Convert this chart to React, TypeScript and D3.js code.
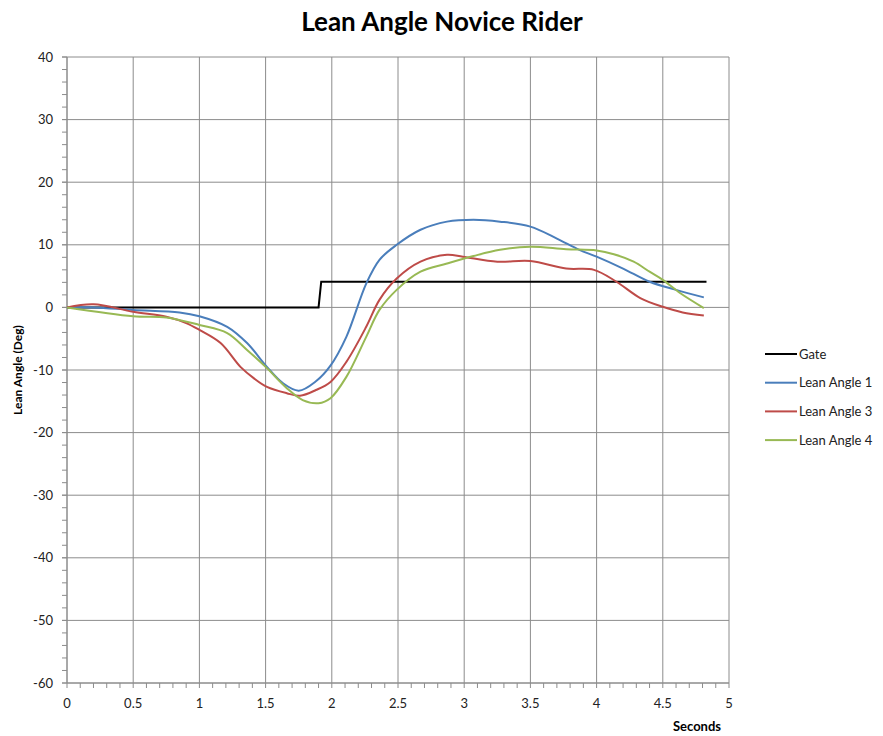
import React from "react";
import * as d3 from "d3";

const gateX = [0, 1.9, 1.92, 4.83];
const gateY = [0, 0, 4.1, 4.1];

const la1X = [0, 0.2, 0.5, 0.85, 1.0, 1.21, 1.36, 1.51, 1.63, 1.75, 1.88, 1.99, 2.11, 2.26, 2.36, 2.49, 2.67, 2.87, 3.07, 3.27, 3.5, 3.7, 3.87, 4.0, 4.2, 4.4, 4.6, 4.81];
const la1Y = [0, 0, -0.4, -0.8, -1.4, -3.1, -5.7, -9.5, -12.1, -13.3, -11.8, -9.3, -4.7, 3.8, 7.6, 10.0, 12.4, 13.7, 14.0, 13.7, 12.9, 11.0, 9.2, 8.1, 6.2, 4.1, 2.8, 1.6];

const la3X = [0, 0.2, 0.5, 0.75, 0.9, 1.0, 1.16, 1.31, 1.41, 1.51, 1.66, 1.76, 1.88, 1.99, 2.11, 2.26, 2.36, 2.49, 2.67, 2.87, 2.99, 3.25, 3.5, 3.77, 3.98, 4.15, 4.33, 4.5, 4.65, 4.81];
const la3Y = [0, 0.5, -0.7, -1.5, -2.5, -3.6, -5.7, -9.5, -11.3, -12.7, -13.7, -14.1, -13.2, -11.9, -8.7, -3.1, 1.2, 4.6, 7.3, 8.4, 8.1, 7.3, 7.4, 6.2, 6.0, 4.1, 1.5, 0.1, -0.8, -1.3];

const la4X = [0, 0.5, 0.75, 1.0, 1.21, 1.36, 1.51, 1.66, 1.78, 1.9, 1.99, 2.11, 2.26, 2.36, 2.49, 2.67, 2.87, 3.07, 3.27, 3.5, 3.77, 4.0, 4.13, 4.28, 4.4, 4.5, 4.63, 4.81];
const la4Y = [0, -1.4, -1.6, -2.8, -4.1, -6.8, -9.7, -12.9, -14.8, -15.3, -14.5, -11.1, -4.7, -0.4, 2.8, 5.7, 7.0, 8.2, 9.2, 9.7, 9.3, 9.1, 8.5, 7.3, 5.7, 4.4, 2.3, -0.1];

const seriesNames = ["Gate", "Lean Angle 1", "Lean Angle 3", "Lean Angle 4"];
const seriesColors = ["#000000", "#4a7ebb", "#be4b48", "#98b954"];
const xTicks = [0, 0.5, 1, 1.5, 2, 2.5, 3, 3.5, 4, 4.5, 5];
const yTicks = [40, 30, 20, 10, 0, -10, -20, -30, -40, -50, -60];

export default function App() {
  const W = 883, H = 736;
  const left = 67, right = 729, top = 57, bottom = 683;
  const x = d3.scaleLinear().domain([0, 5]).range([left, right]);
  const y = d3.scaleLinear().domain([-60, 40]).range([bottom, top]);
  const font = "Lato, 'Open Sans', sans-serif";

  const toPts = (xs: number[], ys: number[]) => xs.map((v, i) => [v, ys[i]] as [number, number]);
  const smooth = d3.line<[number, number]>().x(d => x(d[0])).y(d => y(d[1])).curve(d3.curveCatmullRom.alpha(0.5));
  const straight = d3.line<[number, number]>().x(d => x(d[0])).y(d => y(d[1]));

  const data = [toPts(gateX, gateY), toPts(la1X, la1Y), toPts(la3X, la3Y), toPts(la4X, la4Y)];
  const xMinor = d3.range(0, 51).map(i => i / 10);
  const yMinor = d3.range(-60, 41, 2);

  return (
    <svg width={W} height={H} style={{ position: "absolute", left: 0, top: 0, background: "#fff" }}>
      <rect width={W} height={H} fill="#fff" />
      <text x={442} y={31} textAnchor="middle" fontFamily={font} fontWeight="bold" fontSize={26} fill="#000">Lean Angle Novice Rider</text>
      {xTicks.map(t => (
        <line key={"gx" + t} x1={x(t)} x2={x(t)} y1={top} y2={bottom} stroke="#8c8c8c" strokeWidth={1} />
      ))}
      {yTicks.map(t => (
        <line key={"gy" + t} x1={left - 5} x2={right} y1={y(t)} y2={y(t)} stroke="#8c8c8c" strokeWidth={1} />
      ))}
      {xMinor.map(t => (
        <line key={"mx" + t} x1={x(t)} x2={x(t)} y1={bottom} y2={bottom + 5} stroke="#8c8c8c" strokeWidth={1} />
      ))}
      {yMinor.map(t => (
        <line key={"my" + t} x1={left - 5} x2={left} y1={y(t)} y2={y(t)} stroke="#8c8c8c" strokeWidth={1} />
      ))}
      <line x1={left} x2={left} y1={top} y2={bottom} stroke="#8c8c8c" />
      <line x1={left} x2={right} y1={bottom} y2={bottom} stroke="#8c8c8c" />
      {yTicks.map(t => (
        <text key={"ly" + t} x={53} y={y(t) + 4.5} textAnchor="end" fontFamily={font} fontSize={13} fill="#222">{t}</text>
      ))}
      {xTicks.map(t => (
        <text key={"lx" + t} x={x(t)} y={708} textAnchor="middle" fontFamily={font} fontSize={13} fill="#222">{t}</text>
      ))}
      <text x={697} y={731} textAnchor="middle" fontFamily={font} fontWeight="bold" fontSize={13} fill="#000">Seconds</text>
      <text transform="translate(22,370) rotate(-90)" textAnchor="middle" fontFamily={font} fontWeight="bold" fontSize={12} fill="#000">Lean Angle (Deg)</text>
      {data.map((d, i) => (
        <path key={"s" + i} d={(i === 0 ? straight(d) : smooth(d)) || ""} fill="none" stroke={seriesColors[i]} strokeWidth={2} />
      ))}
      {seriesNames.map((n, i) => (
        <g key={"lg" + i}>
          <line x1={765} x2={797} y1={354 + i * 28.7} y2={354 + i * 28.7} stroke={seriesColors[i]} strokeWidth={2} />
          <text x={799} y={354 + i * 28.7 + 4.5} fontFamily={font} fontSize={13} fill="#222">{n}</text>
        </g>
      ))}
    </svg>
  );
}
